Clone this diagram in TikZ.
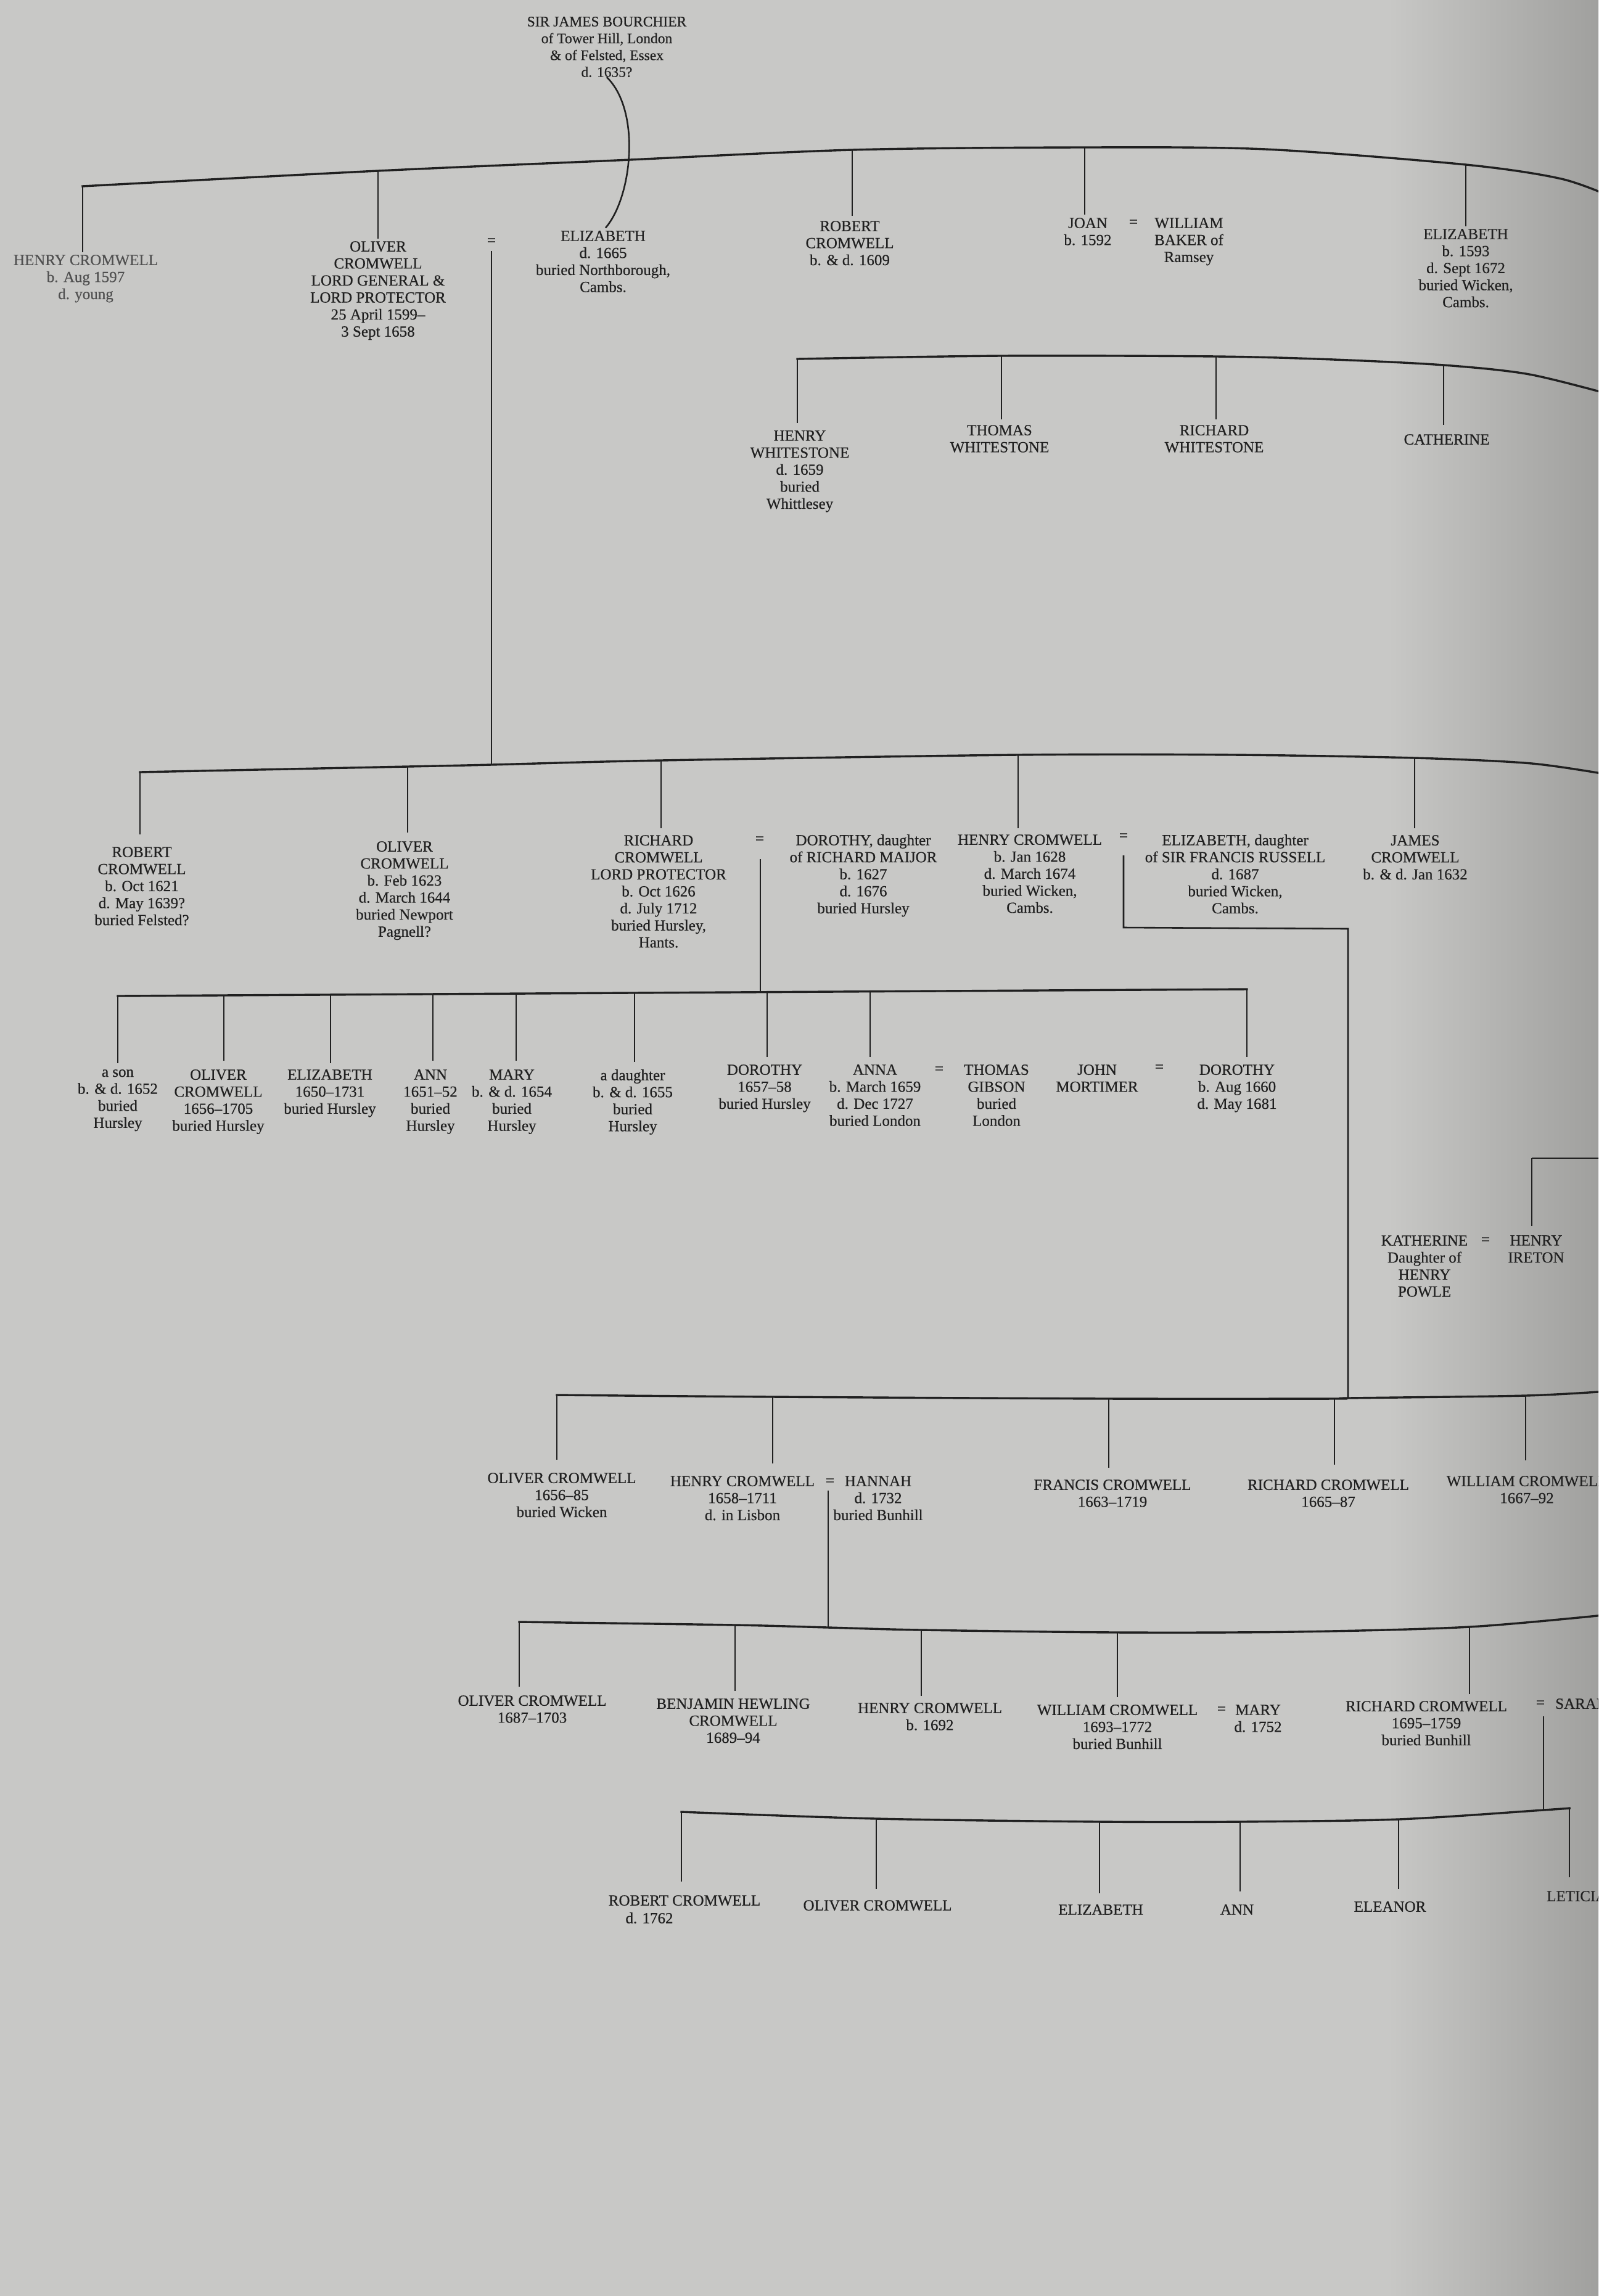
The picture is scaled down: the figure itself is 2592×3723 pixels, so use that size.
\documentclass[tikz,border=0pt]{standalone}
\usepackage{fontspec}
\setmainfont{Liberation Serif}[FakeBold=0.5]
\definecolor{bgc}{RGB}{200,200,198}
\definecolor{bgdark}{RGB}{160,160,158}
\definecolor{ink}{RGB}{32,32,32}
\definecolor{faded}{RGB}{80,80,80}
\tikzset{
 pers/.style={align=center,anchor=north,inner sep=0pt,text=ink,font=\fontsize{25}{27.6}\selectfont},
 persw/.style={pers,anchor=north west,align=left},
 eqs/.style={inner sep=0pt,text=ink,font=\fontsize{25}{27.6}\selectfont},
 bus/.style={draw=ink,line width=3.4pt,line cap=rect,line join=round},
 drop/.style={draw=ink,line width=2.6pt,shorten >=#1},
 drop/.default=12pt,
 link/.style={draw=ink,line width=2.6pt},
}
\begin{document}
\begin{tikzpicture}[x=1pt,y=-1pt]
\useasboundingbox (0,0) rectangle (2592,3723);
\fill[bgc] (0,0) rectangle (2592,3723);
\shade[left color=bgc,right color=bgdark] (2250,0) rectangle (2592,3723);
\clip (0,0) rectangle (2592,3723);

% ---------- top generation ----------
\node[pers,font=\fontsize{23.5}{27.3}\selectfont] (sj) at (984,27) {SIR JAMES BOURCHIER\\of Tower Hill, London\\\& of Felsted, Essex\\d. 1635?};
\node[pers,text=faded] (hc) at (139,413) {HENRY CROMWELL\\b. Aug 1597\\d. young};
\node[pers] (ol) at (613,391) {OLIVER\\CROMWELL\\LORD GENERAL \&\\LORD PROTECTOR\\25 April 1599–\\3 Sept 1658};
\node[eqs] (eq1) at (797,392) {=};
\node[pers] (el) at (978,374) {ELIZABETH\\d. 1665\\buried Northborough,\\Cambs.};
\node[pers] (rc) at (1378,358) {ROBERT\\CROMWELL\\b. \& d. 1609};
\node[pers] (jo) at (1764,353) {JOAN\\b. 1592};
\node[eqs] (eq2) at (1838,362) {=};
\node[pers] (wb) at (1928,353) {WILLIAM\\BAKER of\\Ramsey};
\node[pers] (el2) at (2377,371) {ELIZABETH\\b. 1593\\d. Sept 1672\\buried Wicken,\\Cambs.};

\coordinate (a0) at (134,302);
\coordinate (a1) at (613,277);
\coordinate (a2) at (1382,243);
\coordinate (a3) at (1759,239);
\coordinate (a4) at (2377,267);
\draw[bus] plot[smooth] coordinates {(a0) (a1) (1000,260) (a2) (a3) (2052,242) (a4) (2532,290) (2620,322)};
\draw[drop=4pt] (a0) -- (a0 |- hc.north);
\draw[drop=4pt] (a1) -- (a1 |- ol.north);
\draw[drop=8pt] (a2) -- (a2 |- rc.north);
\draw[drop=5pt] (a3) -- (a3 |- jo.north);
\draw[drop=4pt] (a4) -- (a4 |- el2.north);
\draw[link,shorten >=6pt] (sj.south) .. controls (1040,180) and (1025,320) .. (el.north);

% ---------- Whitestone row ----------
\node[pers] (hw) at (1297,698) {HENRY\\WHITESTONE\\d. 1659\\buried\\Whittlesey};
\node[pers] (tw) at (1621,689) {THOMAS\\WHITESTONE};
\node[pers] (rw) at (1969,689) {RICHARD\\WHITESTONE};
\node[pers] (cw) at (2346,704) {CATHERINE};
\coordinate (b0) at (1293,582);
\coordinate (b1) at (1624,577);
\coordinate (b2) at (1972,578);
\coordinate (b3) at (2341,592);
\draw[bus] plot[smooth] coordinates {(b0) (b1) (b2) (2162,583) (b3) (2480,607) (2620,642)};
\draw[drop=12pt] (b0) -- (b0 |- hw.north);
\draw[drop=9pt] (b1) -- (b1 |- tw.north);
\draw[drop=9pt] (b2) -- (b2 |- rw.north);
\draw[drop=15pt] (b3) -- (b3 |- cw.north);

% ---------- children of Oliver and Elizabeth ----------
\node[pers] (ro) at (230,1373) {ROBERT\\CROMWELL\\b. Oct 1621\\d. May 1639?\\buried Felsted?};
\node[pers] (ol2) at (656,1364) {OLIVER\\CROMWELL\\b. Feb 1623\\d. March 1644\\buried Newport\\Pagnell?};
\node[pers] (ri) at (1068,1354) {RICHARD\\CROMWELL\\LORD PROTECTOR\\b. Oct 1626\\d. July 1712\\buried Hursley,\\Hants.};
\node[eqs] (eq3) at (1232,1362) {=};
\node[pers] (do) at (1400,1353) {DOROTHY, daughter\\of RICHARD MAIJOR\\b. 1627\\d. 1676\\buried Hursley};
\node[pers] (he) at (1670,1353) {HENRY CROMWELL\\b. Jan 1628\\d. March 1674\\buried Wicken,\\Cambs.};
\node[eqs] (eq4) at (1822,1357) {=};
\node[pers] (eli) at (2003,1353) {ELIZABETH, daughter\\of SIR FRANCIS RUSSELL\\d. 1687\\buried Wicken,\\Cambs.};
\node[pers] (ja) at (2295,1354) {JAMES\\CROMWELL\\b. \& d. Jan 1632};

\coordinate (c0) at (227,1252);
\coordinate (c1) at (661,1243);
\coordinate (c2) at (797,1240);
\coordinate (c3) at (1072,1233);
\coordinate (c4) at (1651,1224);
\coordinate (c5) at (2294,1229);
\draw[bus] plot[smooth] coordinates {(c0) (c1) (c2) (c3) (c4) (2000,1224) (c5) (2484,1238) (2620,1258)};
\draw[link,shorten <=9pt] (eq1.south) -- (eq1.south |- c2);
\draw[drop=20pt] (c0) -- (c0 |- ro.north);
\draw[drop=14pt] (c1) -- (c1 |- ol2.north);
\draw[drop=11pt] (c3) -- (c3 |- ri.north);
\draw[drop=10pt] (c4) -- (c4 |- he.north);
\draw[drop=11pt] (c5) -- (c5 |- ja.north);

% ---------- children of Richard and Dorothy ----------
\node[pers] (s1) at (191,1734) {a son\\b. \& d. 1652\\buried\\Hursley};
\node[pers] (s2) at (354,1734) {OLIVER\\CROMWELL\\1656–1705\\buried Hursley};
\node[pers] (s3) at (535,1734) {ELIZABETH\\1650–1731\\buried Hursley};
\node[pers] (s4) at (698,1734) {ANN\\1651–52\\buried\\Hursley};
\node[pers] (s5) at (830,1734) {MARY\\b. \& d. 1654\\buried\\Hursley};
\node[pers] (s6) at (1026,1734) {a daughter\\b. \& d. 1655\\buried\\Hursley};
\node[pers] (s7) at (1240,1726) {DOROTHY\\1657–58\\buried Hursley};
\node[pers] (s8) at (1419,1726) {ANNA\\b. March 1659\\d. Dec 1727\\buried London};
\node[eqs] (eq5) at (1523,1735) {=};
\node[pers] (tg) at (1616,1726) {THOMAS\\GIBSON\\buried\\London};
\node[pers] (jm) at (1779,1726) {JOHN\\MORTIMER};
\node[eqs] (eq6) at (1880,1732) {=};
\node[pers] (s9) at (2006,1726) {DOROTHY\\b. Aug 1660\\d. May 1681};

\coordinate (rdtop) at (1233,1393);
\coordinate (d0) at (191,1615);
\coordinate (d1) at (363,1614);
\coordinate (d2) at (536,1613);
\coordinate (d3) at (702,1612);
\coordinate (d4) at (837,1611);
\coordinate (d5) at (1029,1610);
\coordinate (dr) at (1233,1609);
\coordinate (d6) at (1244,1609);
\coordinate (d7) at (1411,1608);
\coordinate (d8) at (2022,1604);
\draw[bus] (d0) -- (d8);
\draw[link] (rdtop) -- (dr);
\draw[drop=10pt] (d0) -- (d0 |- s1.north);
\draw[drop=14pt] (d1) -- (d1 |- s2.north);
\draw[drop=10pt] (d2) -- (d2 |- s3.north);
\draw[drop=14pt] (d3) -- (d3 |- s4.north);
\draw[drop=14pt] (d4) -- (d4 |- s5.north);
\draw[drop=12pt] (d5) -- (d5 |- s6.north);
\draw[drop=12pt] (d6) -- (d6 |- s7.north);
\draw[drop=12pt] (d7) -- (d7 |- s8.north);
\draw[drop=12pt] (d8) -- (d8 |- s9.north);

% ---------- Henry and Elizabeth descent ----------
\coordinate (hetop) at (1822,1387);
\coordinate (hec1) at (1822,1504);
\coordinate (hec2) at (2186,1506);

% ---------- Katherine and Henry Ireton ----------
\node[pers] (ka) at (2310,2003) {KATHERINE\\Daughter of\\HENRY\\POWLE};
\node[eqs] (eq8) at (2409,2012) {=};
\node[pers] (ir) at (2491,2003) {HENRY\\IRETON};
\coordinate (irc) at (2484,1878);
\coordinate (irin) at (2620,1878);
\draw[link] (irin) -- (irc);
\draw[drop=15pt] (irc) -- (irc |- ir.north);

% ---------- children of Henry and Elizabeth ----------
\node[pers] (r5a) at (911,2388) {OLIVER CROMWELL\\1656–85\\buried Wicken};
\node[pers] (r5b) at (1204,2393) {HENRY CROMWELL\\1658–1711\\d. in Lisbon};
\node[eqs] (eq7) at (1346,2403) {=};
\node[pers] (ha) at (1424,2393) {HANNAH\\d. 1732\\buried Bunhill};
\node[pers] (fr) at (1804,2399) {FRANCIS CROMWELL\\1663–1719};
\node[pers] (r5r) at (2154,2399) {RICHARD CROMWELL\\1665–87};
\node[pers] (wi) at (2476,2393) {WILLIAM CROMWELL\\1667–92};

\coordinate (e0) at (903,2262);
\coordinate (e1) at (1253,2265);
\coordinate (e2) at (1798,2268);
\coordinate (e3) at (2164,2268);
\coordinate (e4) at (2186,2267);
\coordinate (e5) at (2474,2263);
\draw[bus] plot[smooth] coordinates {(e0) (e1) (e2) (e3) (e4) (e5) (2620,2255)};
\draw[link] (hetop) -- (hec1) -- (hec2) -- (e4);
\draw[drop=21pt] (e0) -- (e0 |- r5a.north);
\draw[drop=20pt] (e1) -- (e1 |- r5b.north);
\draw[drop=19pt] (e2) -- (e2 |- fr.north);
\draw[drop=24pt] (e3) -- (e3 |- r5r.north);
\draw[drop=25pt] (e5) -- (e5 |- wi.north);

% ---------- children of Henry and Hannah ----------
\node[pers] (r6a) at (863,2749) {OLIVER CROMWELL\\1687–1703};
\node[pers] (r6b) at (1189,2754) {BENJAMIN HEWLING\\CROMWELL\\1689–94};
\node[pers] (r6c) at (1508,2761) {HENRY CROMWELL\\b. 1692};
\node[pers] (r6d) at (1812,2764) {WILLIAM CROMWELL\\1693–1772\\buried Bunhill};
\node[eqs] (eq9) at (1981,2773) {=};
\node[pers] (ma) at (2040,2764) {MARY\\d. 1752};
\node[pers] (r6e) at (2313,2758) {RICHARD CROMWELL\\1695–1759\\buried Bunhill};
\node[eqs] (eq10) at (2498,2763) {=};
\node[persw] (sa) at (2522,2754) {SARAH};

\coordinate (hhtop) at (1343,2417);
\coordinate (f0) at (842,2630);
\coordinate (f1) at (1192,2635);
\coordinate (f2) at (1343,2639);
\coordinate (f3) at (1494,2643);
\coordinate (f4) at (1812,2647);
\coordinate (f5) at (2383,2638);
\draw[bus] plot[smooth] coordinates {(f0) (f1) (f2) (f3) (f4) (2100,2646) (f5) (2620,2617)};
\draw[link] (hhtop) -- (f2);
\draw[drop=14pt] (f0) -- (f0 |- r6a.north);
\draw[drop=12pt] (f1) -- (f1 |- r6b.north);
\draw[drop=11pt] (f3) -- (f3 |- r6c.north);
\draw[drop=12pt] (f4) -- (f4 |- r6d.north);
\draw[drop=11pt] (f5) -- (f5 |- r6e.north);

% ---------- children of Richard and Sarah ----------
\node[pers] (r7a) at (1110,3073) {ROBERT CROMWELL};
\node[pers] (r7b) at (1053,3101) {d. 1762};
\node[pers] (r7c) at (1423,3081) {OLIVER CROMWELL};
\node[pers] (r7d) at (1785,3088) {ELIZABETH};
\node[pers] (r7e) at (2006,3088) {ANN};
\node[pers] (r7f) at (2254,3083) {ELEANOR};
\node[persw] (r7g) at (2508,3066) {LETICIA};

\coordinate (rstop) at (2503,2783);
\coordinate (g0) at (1105,2938);
\coordinate (g1) at (1421,2949);
\coordinate (g2) at (1783,2954);
\coordinate (g3) at (2011,2954);
\coordinate (g4) at (2268,2950);
\coordinate (g5) at (2503,2935);
\coordinate (g6) at (2545,2932);
\draw[bus] plot[smooth] coordinates {(g0) (g1) (g2) (g3) (g4) (g5) (g6)};
\draw[link] (rstop) -- (g5);
\draw[drop=22pt] (g0) -- (g0 |- r7a.north);
\draw[drop=18pt] (g1) -- (g1 |- r7c.north);
\draw[drop=18pt] (g2) -- (g2 |- r7d.north);
\draw[drop=21pt] (g3) -- (g3 |- r7e.north);
\draw[drop=20pt] (g4) -- (g4 |- r7f.north);
\draw[drop=22pt] (g6) -- (g6 |- r7g.north);
\end{tikzpicture}
\end{document}
